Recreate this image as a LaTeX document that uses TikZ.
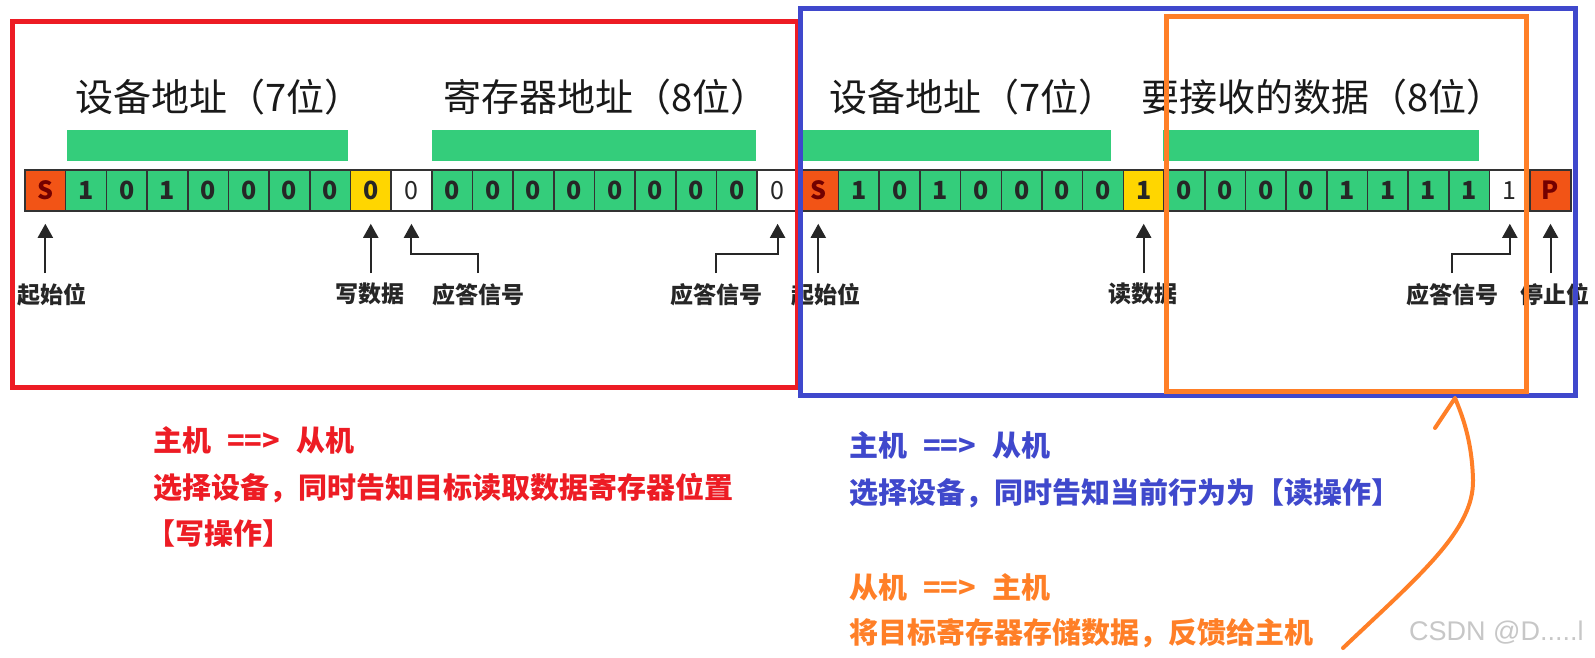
\documentclass[tikz,border=0pt]{standalone}
\usepackage{fontspec}
\newfontfamily\cjk{Noto Sans CJK SC}
\newfontfamily\wmfont{Liberation Sans}
\usetikzlibrary{arrows.meta,calc,positioning}
\definecolor{mred}{RGB}{237,28,36}
\definecolor{mblue}{RGB}{63,72,204}
\definecolor{morange}{RGB}{255,127,39}
\definecolor{bitgreen}{RGB}{52,205,123}
\definecolor{bityellow}{RGB}{255,214,0}
\definecolor{bitred}{RGB}{242,84,22}

\begin{document}
\begin{tikzpicture}[x=1pt, y=-1pt,
  >={Triangle[length=14pt,width=15pt]},
  cell/.style={draw=black!80, line width=1.6pt, minimum width=40.68pt, minimum height=41pt, inner sep=0pt,
    font=\cjk\bfseries\fontsize{25}{25}\selectfont, text=black!85},
  bitS/.style={cell, fill=bitred, text=red!45!black},
  bitG/.style={cell, fill=bitgreen},
  bitY/.style={cell, fill=bityellow},
  bitW/.style={cell, fill=white, font=\cjk\fontsize{25}{25}\selectfont},
  bar/.style={fill=bitgreen, inner sep=0pt, minimum height=31pt},
  head/.style={inner sep=0pt, font=\cjk\fontsize{38}{42}\selectfont, text=black!90},
  tag/.style={anchor=north, inner sep=0pt, font=\cjk\bfseries\fontsize{23}{23}\selectfont, text=black!85},
  uparr/.style={->, line width=2pt, draw=black!85},
  note/.style={anchor=west, inner sep=0pt, font=\cjk\bfseries\fontsize{29}{29}\selectfont},
  frame/.style={line width=5pt}]
  \useasboundingbox (0,0) rectangle (1595,658);
  \fill[white] (0,0) rectangle (1595,658);
  % field titles and green bars
  \node[head] (h1) at (219,97) {设备地址（7位）};
  \node[head] (h2) at (606,97) {寄存器地址（8位）};
  \node[head] (h3) at (973,97) {设备地址（7位）};
  \node[head] (h4) at (1323,97) {要接收的数据（8位）};
  \node[bar, minimum width=281pt] (bar1) at (207.5,145.5) {};
  \node[bar, minimum width=324pt] (bar2) at (594,145.5) {};
  \node[bar, minimum width=313pt] (bar3) at (954.5,145.5) {};
  \node[bar, minimum width=316pt] (bar4) at (1321,145.5) {};
  % the bit row, 38 cells
  \foreach \b/\k [count=\i] in {S/bitS,1/bitG,0/bitG,1/bitG,0/bitG,0/bitG,0/bitG,0/bitG,0/bitY,0/bitW,
      0/bitG,0/bitG,0/bitG,0/bitG,0/bitG,0/bitG,0/bitG,0/bitG,0/bitW,
      S/bitS,1/bitG,0/bitG,1/bitG,0/bitG,0/bitG,0/bitG,0/bitG,1/bitY,
      0/bitG,0/bitG,0/bitG,0/bitG,1/bitG,1/bitG,1/bitG,1/bitG,1/bitW,P/bitS}
    \node[\k] (c\i) at (25+40.68*\i-20.34,190.5) {\b};
  % labels under the row
  \node[tag] (l1) at (52,283) {起始位};
  \node[tag] (l2) at (370,283) {写数据};
  \node[tag] (l3) at (478,283) {应答信号};
  \node[tag] (l4) at (716,283) {应答信号};
  \node[tag] (l5) at (826,283) {起始位};
  \node[tag] (l6) at (1143,283) {读数据};
  \node[tag] (l7) at (1452,283) {应答信号};
  \node[tag] (l8) at (1555,283) {停止位};
  % arrows up to the cells
  \draw[uparr] ($(c1.south |- l1.north)+(0,-10)$) -- ($(c1.south)+(0,12)$);
  \draw[uparr] ($(c9.south |- l2.north)+(0,-10)$) -- ($(c9.south)+(0,12)$);
  \draw[uparr] ($(l3.north)+(0,-10)$) |- ($(c10.south)+(0,42)$) -- ($(c10.south)+(0,12)$);
  \draw[uparr] ($(l4.north)+(0,-10)$) |- ($(c19.south)+(0,42)$) -- ($(c19.south)+(0,12)$);
  \draw[uparr] ($(c20.south |- l5.north)+(0,-10)$) -- ($(c20.south)+(0,12)$);
  \draw[uparr] ($(c28.south |- l6.north)+(0,-10)$) -- ($(c28.south)+(0,12)$);
  \draw[uparr] ($(l7.north)+(0,-10)$) |- ($(c37.south)+(0,42)$) -- ($(c37.south)+(0,12)$);
  \draw[uparr] ($(c38.south |- l8.north)+(0,-10)$) -- ($(c38.south)+(0,12)$);
  % frames
  \draw[frame, mred] (12.5,21.5) rectangle (797,387);
  \draw[frame, mblue] (800,8.5) rectangle (1575,395);
  \draw[frame, morange] (1166,16.5) rectangle (1526.5,391.5);
  % notes
  \node[note, text=mred] (n1) at (153,440) {主机\hspace{16pt}==>\hspace{16pt}从机};
  \node[note, text=mred] (n2) at (153,488) {选择设备，同时告知目标读取数据寄存器位置};
  \node[note, text=mred] (n3) at (146,534) {【写操作】};
  \node[note, text=mblue] (n4) at (849,445) {主机\hspace{16pt}==>\hspace{16pt}从机};
  \node[note, text=mblue] (n5) at (849,493) {选择设备，同时告知当前行为为【读操作】};
  \node[note, text=morange] (n6) at (849,587) {从机\hspace{16pt}==>\hspace{16pt}主机};
  \node[note, text=morange] (n7) at (849,633) {将目标寄存器存储数据，反馈给主机};
  \node[anchor=west, inner sep=0pt, font=\wmfont\fontsize{27}{27}\selectfont, text=black!22] (wm) at (1409,633) {CSDN @D.....l};
  % hand drawn arrow to the orange frame
  \coordinate (tail) at (1343,648);
  \coordinate (tip) at (1455,398);
  \draw[morange, line width=4pt, line cap=round, line join=round]
    (tail) .. controls (1420,575) and (1474,530) .. (1473,480)
    .. controls (1472,440) and (1462,415) .. (tip) -- (1435,428);
\end{tikzpicture}
\end{document}
